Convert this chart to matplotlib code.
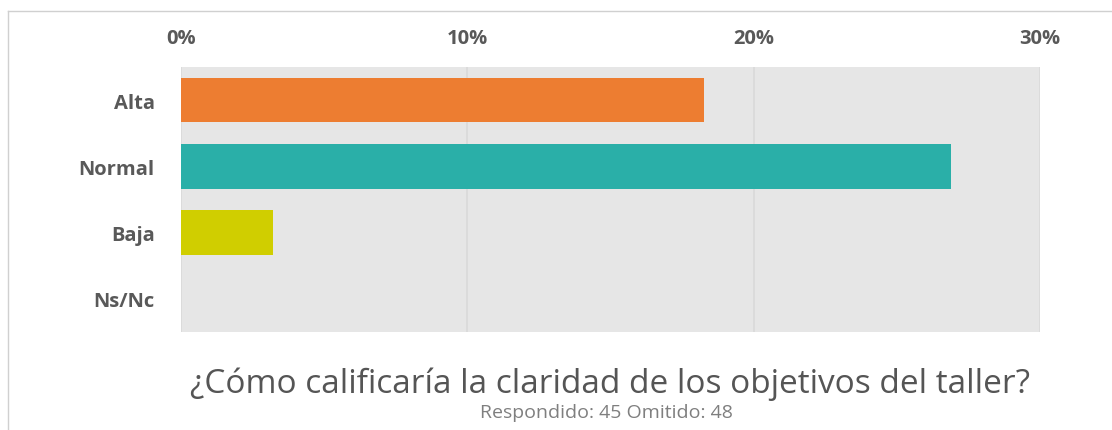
import matplotlib.pyplot as plt
import numpy as np

plt.rcParams['font.family'] = ['Open Sans', 'DejaVu Sans']

# datos: 17, 25, 3 de 93 respuestas
categorias = ["Alta", "Normal", "Baja", "Ns/Nc"]
porcentajes = [18.28, 26.88, 3.23, 0.0]
colores = ["#ED7D31", "#2AAFA8", "#D0CE00", "#A5A5A5"]
ticks_x = [0, 10, 20, 30]
titulo = "¿Cómo calificaría la claridad de los objetivos del taller?"
subtitulo = "Respondido: 45 Omitido: 48"

fig = plt.figure(figsize=(11.12, 4.31), dpi=100)
ax = fig.add_axes([181 / 1112, 1 - 333 / 431, (1040 - 181) / 1112, (333 - 68) / 431])
ax.set_facecolor("#E6E6E6")

y = np.arange(len(categorias))
ax.barh(y, porcentajes, height=0.67, color=colores, zorder=3)
ax.set_xlim(0, 30)
ax.set_ylim(len(categorias) - 0.5, -0.5)

ax.set_xticks(ticks_x)
ax.set_xticklabels([f"{t}%" for t in ticks_x])
ax.xaxis.tick_top()
ax.set_yticks(y)
ax.set_yticklabels(categorias)
ax.tick_params(length=0, colors="#595959", labelsize=14.5)
ax.tick_params(axis="x", pad=14)
ax.tick_params(axis="y", pad=19)
for lab in ax.get_xticklabels() + ax.get_yticklabels():
    lab.set_fontweight("bold")

ax.grid(axis="x", color="#D9D9D9", linewidth=1.2, zorder=1)
for s in ax.spines.values():
    s.set_visible(False)

# marco de la captura
fig.add_artist(plt.Line2D([8 / 1112, 1], [1 - 12 / 431, 1 - 12 / 431], color="#D0D0D0", lw=1))
fig.add_artist(plt.Line2D([8 / 1112, 8 / 1112], [0, 1 - 12 / 431], color="#D0D0D0", lw=1))

fig.text(610 / 1112, 1 - 384 / 431, titulo, ha="center", va="center",
         fontsize=24, color="#555555")
fig.text(606 / 1112, 1 - 413 / 431, subtitulo, ha="center", va="center",
         fontsize=14, color="#7F7F7F")

fig.savefig("out.png", dpi=100)
